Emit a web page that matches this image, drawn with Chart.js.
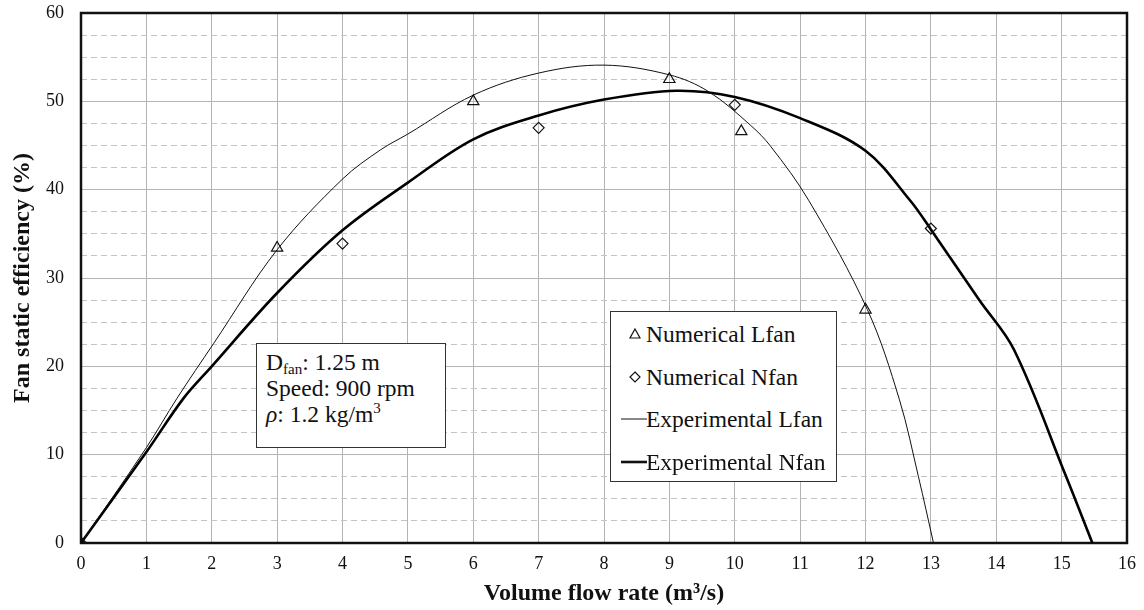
<!DOCTYPE html>
<html>
<head>
<meta charset="utf-8">
<script src="https://cdn.jsdelivr.net/npm/chart.js@4"></script>
<style>
  body { margin: 0; background: #fff; }
  #wrap { position: relative; width: 1144px; height: 610px; }
  .box {
    position: absolute; background: #fff; border: 1px solid #333;
    font-family: "Liberation Serif", "DejaVu Serif", serif; font-size: 23.5px; color: #111;
    box-sizing: border-box;
  }
  #info { left: 256px; top: 343px; width: 190px; height: 105px; padding: 5px 0 0 9px; line-height: 26px; }
  #info sub { font-size: 15px; vertical-align: -4px; line-height: 0; }
  #info sup { font-size: 15px; vertical-align: 9px; line-height: 0; }
  #legend { left: 610px; top: 311px; width: 227px; height: 171px; padding-top: 1px; }
  .row { position: relative; height: 42.5px; line-height: 42.5px; padding-left: 35px; white-space: nowrap; }
  .row svg { position: absolute; left: 8px; top: 13px; }
</style>
</head>
<body>
<div id="wrap">
  <canvas id="chart" width="1144" height="610"></canvas>
  <div class="box" id="info">
    <div>D<sub>fan</sub>: 1.25 m</div>
    <div>Speed: 900 rpm</div>
    <div><i>ρ</i>: 1.2 kg/m<sup>3</sup></div>
  </div>
  <div class="box" id="legend">
    <div class="row"><svg width="28" height="16"><polygon points="16,3 21,12 11,12" fill="none" stroke="#111" stroke-width="1.2"/></svg>Numerical Lfan</div>
    <div class="row"><svg width="28" height="16"><polygon points="16,3 21,8 16,13 11,8" fill="none" stroke="#111" stroke-width="1.2"/></svg>Numerical Nfan</div>
    <div class="row"><svg width="28" height="16"><line x1="2" y1="8" x2="28" y2="8" stroke="#111" stroke-width="1"/></svg>Experimental Lfan</div>
    <div class="row"><svg width="28" height="16"><line x1="2" y1="8" x2="28" y2="8" stroke="#111" stroke-width="2.6"/></svg>Experimental Nfan</div>
  </div>
</div>
<script>
// Numerical (CFD) points
const numLfanX = [0, 3, 6, 9, 10.1, 12];
const numLfanY = [0, 33.4, 50.0, 52.5, 46.6, 26.4];
const numNfanX = [0, 4, 7, 10, 13];
const numNfanY = [0, 33.9, 47.0, 49.6, 35.6];

// Experimental curves
const expLfanX = [0, 1, 1.47, 2.03, 3, 4, 4.58, 5, 6, 7, 8, 9, 9.6, 10.24, 10.55, 11.13, 12.03, 12.52, 12.81, 13.04];
const expLfanY = [0, 10.8, 16.4, 22.6, 33.2, 41.2, 44.5, 46.3, 50.7, 53.2, 54.1, 53.0, 51.1, 47.3, 44.9, 38.8, 26.4, 16.2, 7.5, 0];
const expNfanX = [0, 1, 1.57, 2, 3, 4, 5, 6, 7, 8, 9.1, 10, 11, 12, 12.68, 13, 13.74, 14.27, 15.07, 15.47];
const expNfanY = [0, 10.3, 16.4, 20, 28.3, 35.4, 40.8, 45.7, 48.4, 50.2, 51.2, 50.5, 48.1, 44.4, 38.8, 35.5, 27.5, 21.9, 7.5, 0];

const toPoints = (xs, ys) => xs.map((x, i) => ({ x: x, y: ys[i] }));

const FONT = 'Liberation Serif';

// Plot frame drawn under the markers
const framePlugin = {
    id: 'frame',
    beforeDatasetsDraw(chart) {
        const { ctx, chartArea: a } = chart;
        ctx.save();
        ctx.strokeStyle = '#111';
        ctx.lineWidth = 2.5;
        ctx.strokeRect(a.left, a.top, a.right - a.left, a.bottom - a.top);
        ctx.restore();
    }
};

new Chart(document.getElementById('chart'), {
    type: 'scatter',
    data: {
        datasets: [
            {
                label: 'Numerical Lfan',
                data: toPoints(numLfanX, numLfanY),
                pointStyle: 'triangle',
                pointRadius: 6.5,
                pointBorderWidth: 1.2,
                borderColor: '#111',
                backgroundColor: 'rgba(0,0,0,0)',
                showLine: false
            },
            {
                label: 'Numerical Nfan',
                data: toPoints(numNfanX, numNfanY),
                pointStyle: 'rectRot',
                pointRadius: 5.5,
                pointBorderWidth: 1.2,
                borderColor: '#111',
                backgroundColor: 'rgba(0,0,0,0)',
                showLine: false
            },
            {
                label: 'Experimental Lfan',
                data: toPoints(expLfanX, expLfanY),
                showLine: true,
                borderColor: '#111',
                borderWidth: 1,
                pointRadius: 0,
                tension: 0.35
            },
            {
                label: 'Experimental Nfan',
                data: toPoints(expNfanX, expNfanY),
                showLine: true,
                borderColor: '#000',
                borderWidth: 2.6,
                pointRadius: 0,
                tension: 0.35
            }
        ]
    },
    options: {
        responsive: false,
        animation: false,
        layout: { padding: { top: 13, right: 17, left: 0, bottom: 0 } },
        plugins: {
            legend: { display: false },
            tooltip: { enabled: false }
        },
        scales: {
            x: {
                type: 'linear',
                min: 0,
                max: 16,
                afterFit: scale => {
                    scale.height = 67;
                    scale.paddingLeft = 0;
                    scale.paddingRight = 0;
                },
                ticks: {
                    stepSize: 1,
                    padding: 10,
                    color: '#111',
                    font: { family: FONT, size: 18 }
                },
                grid: { color: '#b4b4b4', lineWidth: 1, drawTicks: false },
                border: { display: false },
                title: {
                    display: true,
                    text: 'Volume flow rate (m³/s)',
                    color: '#111',
                    font: { family: FONT, size: 24, weight: 'bold' },
                    padding: { top: 0, bottom: 2 }
                }
            },
            y: {
                min: 0,
                max: 60,
                afterFit: scale => {
                    scale.width = 81;
                    scale.paddingTop = 0;
                    scale.paddingBottom = 0;
                },
                ticks: {
                    stepSize: 2.5,
                    autoSkip: false,
                    padding: 17,
                    color: '#111',
                    font: { family: FONT, size: 18 },
                    callback: v => (v % 10 === 0 ? v : '')
                },
                grid: {
                    drawTicks: false,
                    lineWidth: 1,
                    color: ctx => (ctx.tick && ctx.tick.value % 10 !== 0 ? '#c4c4c4' : '#b4b4b4')
                },
                border: {
                    display: false,
                    dash: ctx => (ctx.tick && ctx.tick.value % 10 !== 0 ? [6, 4] : [])
                },
                title: {
                    display: true,
                    text: 'Fan static efficiency (%)',
                    color: '#111',
                    font: { family: FONT, size: 24, weight: 'bold' },
                    padding: { top: 8, bottom: 0 }
                }
            }
        }
    },
    plugins: [framePlugin]
});
</script>
</body>
</html>
